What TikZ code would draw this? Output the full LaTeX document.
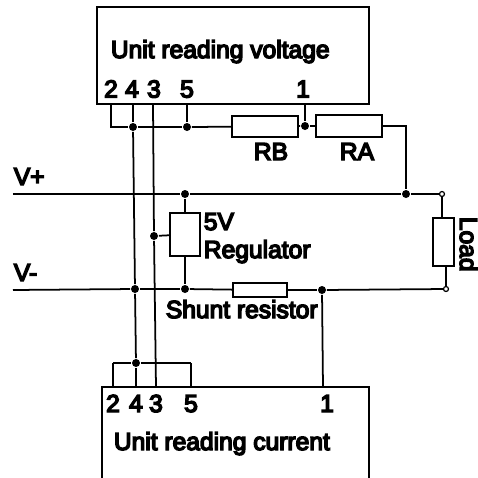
\documentclass[tikz,border=0pt]{standalone}
\usepackage{fontspec}
\setmainfont{Liberation Sans}[FakeBold=6]
\usetikzlibrary{positioning}
\usetikzlibrary{calc}

\begin{document}
\begin{tikzpicture}[x=0.02cm, y=-0.02cm, line width=1pt,
        every node/.style={font=\fontsize{14}{16}\selectfont, inner sep=0pt},
        n/.style={draw, minimum width=#1*0.02cm},
        dot/.style={circle, fill, minimum size=0.16cm},
        term/.style={circle, draw, fill=white, line width=0.7pt, minimum size=0.1cm}]
        \clip (0, 0) rectangle (478, 478);

        % the two units
        \node[n=272, minimum height=1.94cm] (unitv) at (233, 55.5) {};
        \node[n=267, minimum height=2.2cm] (unitc) at (235.5, 442) {};
        \node[anchor=base west] (unitvl) at (110, 58) {Unit reading voltage};
        \node[anchor=base west] (unitcl) at (113, 450) {Unit reading current};

        % pins
        \foreach \name/\x in {2/111, 4/132, 3/154, 5/187, 1/303}
            \node[anchor=base] (vl\name) at (\x, 97.5) {\name};
        \foreach \name/\x in {2/113, 4/136, 3/156, 5/191, 1/327}
            \node[anchor=base] (cl\name) at (\x, 412) {\name};
        \coordinate (v2) at (111, 104);
        \coordinate (v4) at (133, 104);
        \coordinate (v3) at (153, 104);
        \coordinate (v5) at (187, 104);
        \coordinate (v1) at (305, 104);
        \coordinate (c2) at (113, 387);
        \coordinate (c4) at (136, 387);
        \coordinate (c3) at (156, 387);
        \coordinate (c5) at (191, 387);
        \coordinate (c1) at (323, 387);

        % parts
        \node[n=66, minimum height=0.43cm] (rb) at (265, 126.5) {};
        \node[n=66, minimum height=0.44cm] (ra) at (349, 126) {};
        \node[n=30, minimum height=0.86cm] (reg) at (185, 234.5) {};
        \node[n=54, minimum height=0.28cm] (shunt) at (260, 290) {};
        \node[n=21, minimum height=0.96cm] (load) at (443.5, 242) {};
        \node[anchor=base] (rbl) at (271, 160) {RB};
        \node[anchor=base] (ral) at (357, 160) {RA};
        \node[anchor=base west] (fivev) at (203, 230) {5V};
        \node[anchor=base west] (regl) at (203, 258) {Regulator};
        \node[anchor=base west] (shuntl) at (165, 318) {Shunt resistor};
        \node[anchor=base west, rotate=-90] (loadl) at (460, 216) {Load};
        \node[anchor=base west] (vplus) at (13, 185) {V+};
        \node[anchor=base west] (vminus) at (13, 281) {V-};

        % joints
        \node[dot] (d4) at (133, 127) {};
        \node[dot] (d5) at (187, 127) {};
        \node[dot] (d1) at (305, 126) {};
        \node[dot] (dpr) at (185, 194) {};
        \node[dot] (dpa) at (406, 194) {};
        \node[dot] (dreg) at (154, 236) {};
        \node[dot] (dm4) at (135, 289) {};
        \node[dot] (dmr) at (185, 289) {};
        \node[dot] (dms) at (322, 290) {};
        \node[dot] (dc4) at (136, 363) {};
        \node[term] (tp) at (442, 194) {};
        \node[term] (tm) at (446, 289) {};
        \coordinate (vpin) at (13, 194);
        \coordinate (vmin) at (13, 290);
        \coordinate (bc2) at (113, 363);
        \coordinate (bc5) at (191, 363);

        \draw (v2) |- (d4);
        \draw (d4) -- (d5);
        \draw (d5) -- (rb);
        \draw (v5) -- (d5);
        \draw (rb) -- (d1);
        \draw (d1) -- (ra);
        \draw (v1) -- (d1);
        \draw (ra.east) -| (dpa);

        \draw (v4) -- (d4);
        \draw (d4) -- (dm4);
        \draw (dm4) -- (dc4);
        \draw (dc4) -- (c4);
        \draw (v3) -- (dreg);
        \draw (dreg) -- (c3);
        \draw (dreg) -- (reg);

        \draw (vpin) -- (dpr);
        \draw (dpr) -- (dpa);
        \draw (dpa) -- (tp);
        \draw (vmin) -- (dm4);
        \draw (dm4) -- (dmr);
        \draw (dmr) -- (shunt);
        \draw (shunt) -- (dms);
        \draw (dms) -- (tm);
        \draw (dpr) -- (reg);
        \draw (reg) -- (dmr);
        \draw (tp) -- (tp |- load.north);
        \draw (tm) -- (tm |- load.south);
        \draw (dms) -- (c1);

        \draw (bc2) -- (c2);
        \draw (bc5) -- (c5);
        \draw (bc2) -- (dc4);
        \draw (dc4) -- (bc5);
    \end{tikzpicture}
\end{document}
